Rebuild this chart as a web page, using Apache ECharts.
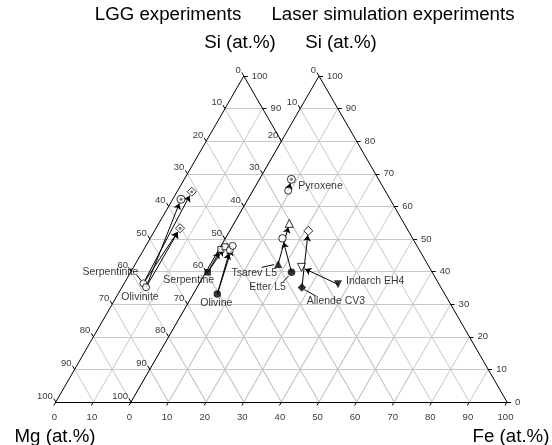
<!DOCTYPE html>
<html><head><meta charset="utf-8">
<script src="https://cdn.jsdelivr.net/npm/echarts@6/dist/echarts.min.js"></script>
<style>html,body{margin:0;padding:0;background:#fff}#c{width:552px;height:445px}</style>
</head><body><div id="c"></div>
<script>
// ---- DATA: compositions as [Fe, Si] in at.% (Mg = 100 - Fe - Si) ----
const tickValues = [0, 10, 20, 30, 40, 50, 60, 70, 80, 90, 100];
// LGG experiments (left triangle)
const lggSerpentinite = [5.1, 36.4];
const lggOlivinite = [6.4, 35.2];
const lggCircleDot = [[2.2, 62.2]];
const lggDiamondDot = [[3.9, 64.5], [6.4, 53.3]];
// Laser simulation experiments (right triangle)
const pyroxeneStart = [9.4, 64.8];
const pyroxeneEnd = [8.5, 68.3];
const serpentineStart = [0.5, 39.8];
const serpentineEnd = [[0.5, 46.8], [1.2, 47.6]];
const olivineStart = [6.4, 33.1];
const olivineEnd = [[3.0, 46.6], [3.1, 47.9]];
const tsarevStart = [18.0, 42.3], tsarevEnd = [14.7, 54.8];
const etterStart = [22.8, 39.8], etterEnd = [15.2, 50.2];
const allendeStart = [27.9, 35.1], allendeEnd = [20.9, 52.5];
const indarchStart = [37.0, 36.1], indarchEnd = [24.7, 41.3];

// ---- LAYOUT ----
const PXU = 3.76, PYU = 3.26, X0PX = 131, Y0PX = 402;
const XMIN = -25, XMAX = 105, YMIN = -6, YMAX = 106;
const LEFT_OFF = -20;
const FONT = "'Liberation Sans', Arial, sans-serif";

function P(c, off) { return [(off || 0) + c[0] + c[1] / 2, c[1]]; }
function shift(pt, dxPx, dyPx) { return [pt[0] + dxPx / PXU, pt[1] - dyPx / PYU]; }
function shorten(a, b, rPx) {
  const dx = (b[0] - a[0]) * PXU, dy = (b[1] - a[1]) * PYU;
  const L = Math.hypot(dx, dy);
  return [b[0] - dx / L * rPx / PXU, b[1] - dy / L * rPx / PYU];
}

// grid lines
const gridSegs = [];
[0, LEFT_OFF].forEach(off => {
  tickValues.slice(1, -1).forEach(k => {
    gridSegs.push({coords: [P([0, k], off), P([100 - k, k], off)]});
    gridSegs.push({coords: [P([k, 0], off), P([k, 100 - k], off)]});
    gridSegs.push({coords: [P([0, 100 - k], off), P([100 - k, 0], off)]});
  });
});
// axes
const axisSegs = [
  {coords: [P([0, 0]), P([100, 0])]},
  {coords: [P([100, 0]), P([0, 100])]},
  {coords: [P([0, 100]), P([0, 0])]},
  {coords: [P([0, 0], LEFT_OFF), P([0, 100], LEFT_OFF)]},
  {coords: [P([0, 0], LEFT_OFF), P([20, 0], LEFT_OFF)]},
  {coords: [P([0, 100], LEFT_OFF), P([20, 80], LEFT_OFF)]}
];
// tick marks and labels
const TL = 4;
const tickSegs = [], siLab = [], mgLab = [], feLab = [];
function siTick(s, off) { const p = P([100 - s, s], off); tickSegs.push({coords: [p, shift(p, TL, 0)]}); siLab.push({value: p, name: String(s)}); }
function mgTick(m, off) { const p = P([0, 100 - m], off); tickSegs.push({coords: [p, shift(p, -TL * 0.5, -TL * 0.866)]}); mgLab.push({value: p, name: String(m)}); }
function feTick(f, off) { const p = P([f, 0], off); tickSegs.push({coords: [p, shift(p, -TL * 0.5, TL * 0.866)]}); feLab.push({value: p, name: String(f)}); }
tickValues.forEach(v => { siTick(v, 0); mgTick(v, 0); feTick(v, 0); mgTick(v, LEFT_OFF); });
[0, 10].forEach(v => feTick(v, LEFT_OFF));
[100, 90].forEach(v => siTick(v, LEFT_OFF));

// arrows
const arrowPairs = [
  [lggSerpentinite, lggDiamondDot[0], LEFT_OFF, 4.5],
  [lggOlivinite, lggCircleDot[0], LEFT_OFF, 4.5],
  [lggSerpentinite, lggDiamondDot[1], LEFT_OFF, 4.5],
  [lggOlivinite, lggDiamondDot[1], LEFT_OFF, 4.5],
  [pyroxeneStart, pyroxeneEnd, 0, 4],
  [serpentineStart, serpentineEnd[0], 0, 3.5],
  [serpentineStart, serpentineEnd[1], 0, 3.5],
  [olivineStart, olivineEnd[0], 0, 3.5],
  [olivineStart, olivineEnd[1], 0, 4],
  [tsarevStart, tsarevEnd, 0, 4],
  [etterStart, etterEnd, 0, 4],
  [allendeStart, allendeEnd, 0, 4.5],
  [indarchStart, indarchEnd, 0, 4]
];
const arrowSegs = arrowPairs.map(([a, b, off, r]) => {
  const pa = P(a, off), pb = P(b, off);
  return {coords: [pa, shorten(pa, pb, r)]};
});

// leader lines (pixel offsets from the point)
const leaders = [
  [tsarevStart, 0, [-16.6, 3.3], [-4, 0.5]],
  [etterStart, 0, [-8.4, 9.4], [-3, 3.7]],
  [allendeStart, 0, [2.5, 2], [14, 8.5]],
  [lggSerpentinite, LEFT_OFF, [-6.6, -8.3], [-2.5, -3]]
];
const leaderSegs = leaders.map(([c, off, a, b]) => {
  const p = P(c, off);
  return {coords: [shift(p, a[0], a[1]), shift(p, b[0], b[1])]};
});

// data labels
const dataLabels = [
  ['Pyroxene', pyroxeneEnd, 0, [7, 7], 'left'],
  ['Tsarev L5', tsarevStart, 0, [-24, 9], 'center'],
  ['Etter L5', etterStart, 0, [-24, 15], 'center'],
  ['Allende CV3', allendeStart, 0, [34, 14], 'center'],
  ['Indarch EH4', indarchStart, 0, [8, -3], 'left'],
  ['Olivine', olivineStart, 0, [-1, 9], 'center'],
  ['Serpentine', serpentineStart, 0, [-19, 8], 'center'],
  ['Serpentinite', lggSerpentinite, LEFT_OFF, [-33, -11], 'center'],
  ['Olivinite', lggOlivinite, LEFT_OFF, [-6, 10], 'center']
].map(([n, c, off, o, al]) => ({
  value: P(c, off), name: n,
  label: {show: true, formatter: n, position: 'inside', offset: o, align: al, verticalAlign: 'middle',
          fontSize: 10.5, color: '#000', fontFamily: FONT}
}));

const lineBase = {type: 'lines', coordinateSystem: 'cartesian2d', polyline: false, silent: true, clip: false, animation: false};
const filled = {color: '#000'};
const open = {color: '#fff', borderColor: '#000', borderWidth: 1};
function sc(data, symbol, size, style, extra) {
  return Object.assign({type: 'scatter', data: data, symbol: symbol, symbolSize: size, itemStyle: style,
    silent: true, animation: false, clip: false, z: 5}, extra || {});
}
function tickLabelSeries(data, align, offset) {
  return {type: 'scatter', data: data, symbolSize: 0, silent: true, animation: false, clip: false, z: 6,
    label: {show: true, formatter: p => p.name, position: 'inside', align: align, verticalAlign: 'middle',
            offset: offset, fontSize: 9.5, color: '#000', fontFamily: FONT}};
}

const option = {
  backgroundColor: '#fff',
  animation: false,
  grid: {left: X0PX + XMIN * PXU, top: Y0PX - YMAX * PYU, width: (XMAX - XMIN) * PXU, height: (YMAX - YMIN) * PYU},
  xAxis: {type: 'value', min: XMIN, max: XMAX, show: false},
  yAxis: {type: 'value', min: YMIN, max: YMAX, show: false},
  series: [
    Object.assign({}, lineBase, {data: gridSegs, lineStyle: {color: '#c8c8c8', width: 1, opacity: 1}, z: 1}),
    Object.assign({}, lineBase, {data: axisSegs, lineStyle: {color: '#000', width: 1, opacity: 1}, z: 2}),
    Object.assign({}, lineBase, {data: tickSegs, lineStyle: {color: '#000', width: 1, opacity: 1}, z: 2}),
    Object.assign({}, lineBase, {data: leaderSegs, lineStyle: {color: '#000', width: 1, opacity: 1}, z: 3}),
    Object.assign({}, lineBase, {data: arrowSegs, symbol: ['none', 'arrow'], symbolSize: 6, lineStyle: {color: '#000', width: 1, opacity: 1}, z: 3}),
    // LGG markers
    sc([P(lggSerpentinite, LEFT_OFF), P(lggOlivinite, LEFT_OFF)], 'circle', 7, open),
    sc(lggCircleDot.map(c => P(c, LEFT_OFF)), 'circle', 8, open),
    sc(lggDiamondDot.map(c => P(c, LEFT_OFF)), 'diamond', 9, open),
    sc(lggCircleDot.concat(lggDiamondDot).map(c => P(c, LEFT_OFF)), 'circle', 3, {color: '#555'}, {z: 6}),
    // laser markers
    sc([P(pyroxeneStart)], 'circle', 7, open),
    sc([P(pyroxeneEnd)], 'circle', 8, open),
    sc([P(pyroxeneEnd)], 'circle', 3, {color: '#555'}, {z: 6}),
    sc([P(serpentineStart)], 'rect', 6.5, filled),
    sc(serpentineEnd.map(c => P(c)), 'rect', 6, open),
    sc([P(olivineStart)], 'circle', 7.5, filled),
    sc(olivineEnd.map(c => P(c)), 'circle', 7, open),
    sc([P(tsarevStart)], 'triangle', 8, filled),
    sc([P(tsarevEnd)], 'triangle', 8, open),
    sc([P(etterStart)], 'circle', 7.5, filled),
    sc([P(etterEnd)], 'circle', 7.5, open),
    sc([P(allendeStart)], 'diamond', 8.5, filled),
    sc([P(allendeEnd)], 'diamond', 9, open),
    sc([P(indarchStart)], 'triangle', 8, filled, {symbolRotate: 180}),
    sc([P(indarchEnd)], 'triangle', 8, open, {symbolRotate: 180}),
    // labels
    {type: 'scatter', data: dataLabels, symbolSize: 0, silent: true, animation: false, clip: false, z: 7},
    tickLabelSeries(siLab, 'left', [8, 0]),
    tickLabelSeries(mgLab, 'right', [-3, -6]),
    tickLabelSeries(feLab, 'center', [-1.5, 15])
  ]
};
const txt = (t, x, y) => ({type: 'text', x: x, y: y, style: {text: t, fontSize: 18.7, fontFamily: FONT, fill: '#000', align: 'center', verticalAlign: 'middle'}});
option.graphic = [
  txt('LGG experiments', 168, 15),
  txt('Laser simulation experiments', 393, 15),
  txt('Si (at.%)', 240, 43),
  txt('Si (at.%)', 341, 43),
  txt('Mg (at.%)', 55, 437),
  txt('Fe (at.%)', 511, 437)
];
const chart = echarts.init(document.getElementById('c'));
chart.setOption(option);
</script></body></html>
